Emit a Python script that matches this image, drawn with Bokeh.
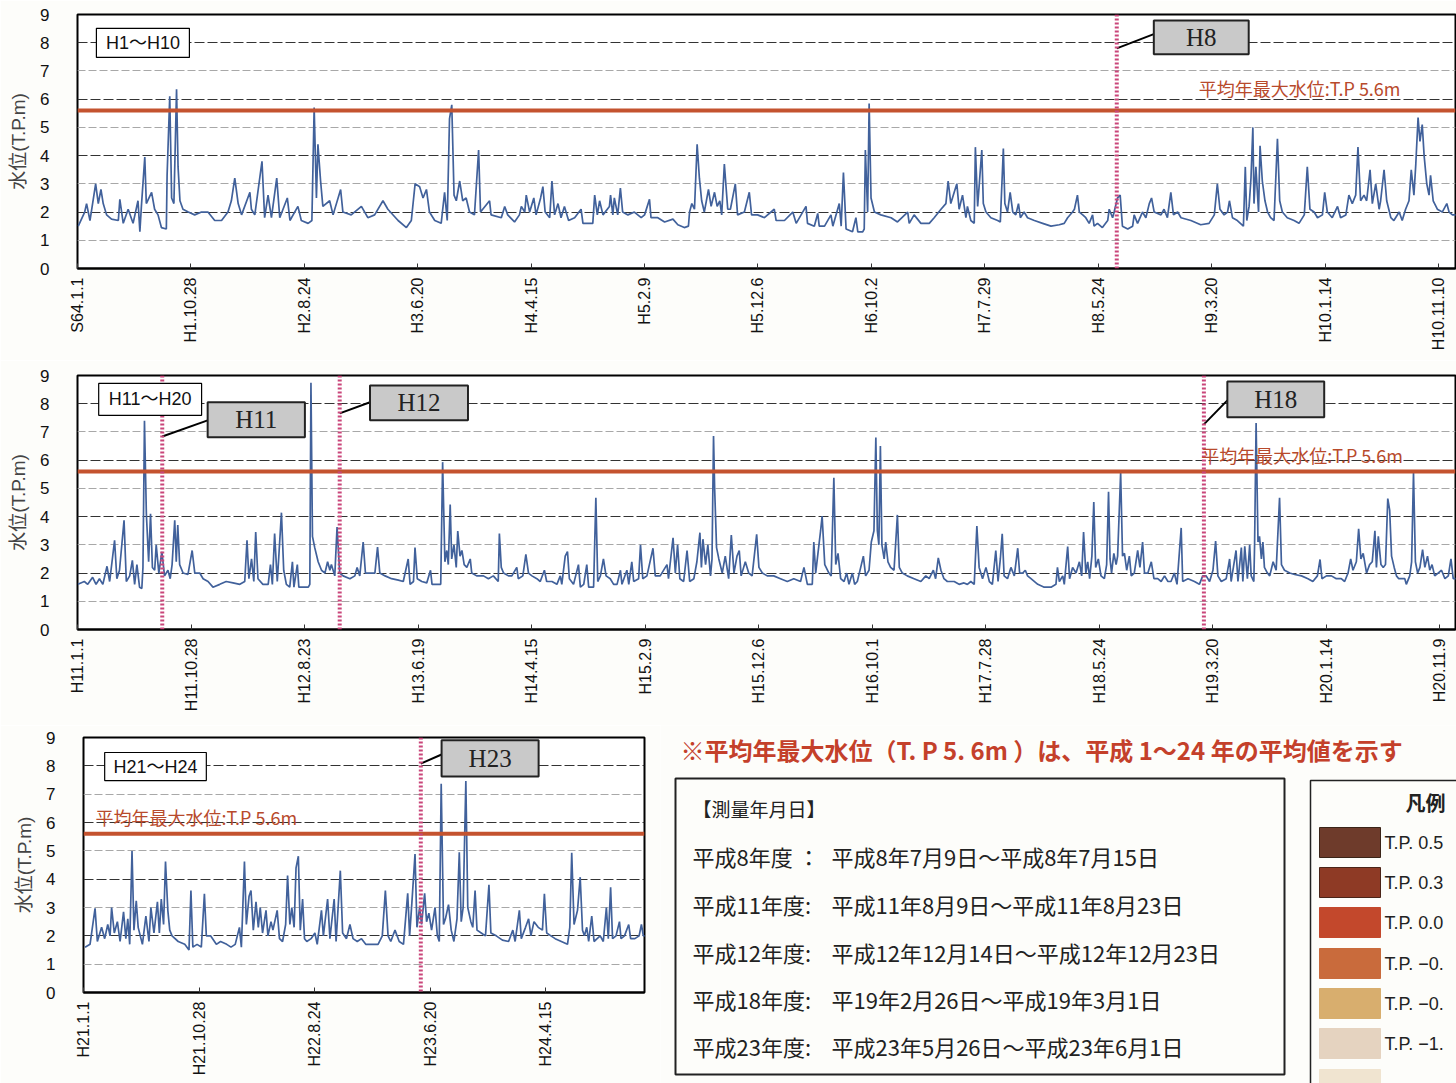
import math
from bokeh.plotting import figure
from bokeh.models import Range1d, FixedTicker, Span, Label, BoxAnnotation, Grid
from bokeh.layouts import column, row
from bokeh.embed import file_html
from bokeh.resources import INLINE

# ---------------- data (days from the first tick, water level T.P.m) ----------------
p1_day = [2, 19, 24, 33, 48, 55, 62, 68, 77, 90, 108, 112, 121, 134, 147, 160, 165, 169, 178, 182,
          196, 204, 213, 222, 235, 237, 244, 249, 255, 262, 266, 271, 279, 293, 310, 328, 345, 363, 381, 398,
          407, 416, 425, 434, 456, 460, 469, 488, 495, 504, 513, 527, 535, 555, 562, 583, 592, 610, 620, 626,
          632, 636, 643, 649, 667, 676, 696, 702, 724, 751, 768, 786, 808, 821, 848, 870, 883, 893, 905, 914,
          923, 931, 945, 962, 971, 978, 984, 990, 996, 1002, 1011, 1019, 1028, 1037, 1050, 1061, 1066, 1090, 1094, 1121,
          1130, 1138, 1156, 1169, 1174, 1183, 1187, 1196, 1207, 1213, 1225, 1231, 1237, 1249, 1255, 1262, 1271, 1279, 1288, 1299,
          1315, 1332, 1337, 1350, 1363, 1368, 1375, 1381, 1390, 1407, 1410, 1416, 1420, 1429, 1436, 1442, 1456, 1473, 1491, 1500,
          1513, 1517, 1535, 1553, 1575, 1588, 1605, 1616, 1619, 1625, 1632, 1639, 1645, 1651, 1658, 1669, 1676, 1685, 1692, 1699,
          1704, 1711, 1720, 1727, 1740, 1746, 1764, 1777, 1783, 1799, 1817, 1843, 1848, 1870, 1892, 1901, 1927, 1931, 1949, 1958,
          1962, 1976, 1993, 1998, 2015, 2020, 2026, 2033, 2050, 2059, 2064, 2077, 2081, 2084, 2090, 2094, 2099, 2108, 2125, 2152,
          2169, 2196, 2200, 2213, 2231, 2253, 2266, 2284, 2297, 2303, 2310, 2319, 2326, 2332, 2341, 2350, 2354, 2363, 2372, 2375,
          2381, 2392, 2396, 2403, 2416, 2434, 2441, 2449, 2453, 2460, 2467, 2474, 2482, 2489, 2494, 2504, 2513, 2531, 2553, 2575,
          2597, 2610, 2619, 2632, 2637, 2645, 2650, 2659, 2667, 2676, 2685, 2689, 2698, 2711, 2725, 2729, 2738, 2742, 2751, 2758,
          2764, 2778, 2791, 2795, 2804, 2817, 2826, 2835, 2841, 2848, 2866, 2874, 2883, 2892, 2899, 2910, 2919, 2945, 2971, 2993,
          3007, 3015, 3022, 3033, 3042, 3047, 3055, 3068, 3084, 3089, 3093, 3099, 3104, 3109, 3112, 3117, 3124, 3128, 3134, 3141,
          3148, 3156, 3165, 3174, 3180, 3187, 3200, 3218, 3231, 3245, 3253, 3260, 3271, 3280, 3293, 3299, 3306, 3319, 3333, 3341,
          3355, 3363, 3372, 3381, 3387, 3394, 3403, 3410, 3419, 3425, 3434, 3443, 3447, 3456, 3463, 3474, 3482, 3496, 3504, 3513,
          3522, 3528, 3535, 3540, 3546, 3551, 3557, 3562, 3569, 3575, 3579, 3586, 3597, 3610, 3622, 3628, 3637, 3645, 3651]
p1_level = [1.5, 2.0, 2.3, 1.7, 3.0, 2.3, 2.8, 2.3, 1.9, 1.75, 1.7, 2.45, 1.6, 2.1, 1.6, 2.4, 1.3, 2.2, 3.95, 2.3,
            2.7, 2.1, 1.9, 1.45, 1.4, 3.3, 6.1, 2.5, 2.3, 6.35, 3.6, 2.4, 2.1, 2.0, 1.9, 2.0, 2.0, 1.7, 1.7, 2.0,
            2.4, 3.2, 2.3, 1.9, 2.7, 2.1, 1.9, 3.8, 1.8, 2.6, 1.8, 3.2, 1.8, 2.5, 1.7, 2.2, 1.7, 1.6, 1.7, 5.7,
            2.5, 4.4, 3.1, 2.2, 2.4, 1.9, 2.8, 2.0, 1.9, 2.2, 1.8, 1.9, 2.4, 2.1, 1.7, 1.45, 1.7, 3.0, 2.9, 2.5,
            2.8, 2.0, 1.7, 1.6, 2.7, 1.7, 5.3, 5.8, 2.6, 2.4, 3.1, 2.4, 2.5, 2.0, 1.9, 4.2, 2.0, 2.4, 1.9, 1.8,
            2.2, 1.9, 1.65, 1.9, 2.2, 2.0, 2.6, 2.0, 2.5, 1.9, 2.5, 2.9, 2.0, 1.8, 3.1, 1.9, 2.3, 1.8, 2.2, 1.7,
            1.8, 2.1, 1.6, 1.6, 1.6, 2.6, 1.9, 2.4, 1.9, 2.2, 2.6, 1.9, 2.5, 1.9, 2.85, 2.0, 1.9, 2.0, 1.8, 1.9,
            2.45, 1.8, 1.8, 1.65, 1.75, 1.55, 1.45, 1.5, 2.0, 2.3, 2.1, 4.4, 3.2, 2.4, 2.0, 2.8, 2.2, 2.7, 2.2, 2.4,
            1.9, 3.7, 2.1, 2.1, 3.0, 1.9, 2.0, 2.7, 1.9, 1.9, 1.8, 2.1, 1.7, 1.7, 2.0, 1.6, 2.2, 1.6, 1.5, 1.95,
            1.5, 1.5, 1.9, 1.5, 2.3, 1.5, 3.4, 1.4, 1.3, 1.8, 1.3, 1.3, 1.4, 4.2, 2.0, 5.85, 2.5, 2.0, 1.9, 1.8,
            1.65, 2.0, 1.6, 1.9, 1.6, 1.6, 1.8, 2.1, 2.3, 3.1, 2.3, 2.7, 3.0, 2.1, 2.6, 1.8, 2.2, 1.7, 1.6, 4.3,
            2.2, 4.2, 2.3, 2.0, 1.8, 1.7, 1.65, 4.25, 2.3, 2.0, 2.7, 2.0, 1.9, 2.3, 1.8, 2.0, 1.8, 1.7, 1.6, 1.5,
            1.55, 1.6, 1.8, 2.0, 2.1, 2.6, 2.0, 1.9, 1.8, 1.6, 1.9, 1.5, 1.6, 1.45, 1.7, 2.1, 1.8, 2.0, 2.5, 2.6,
            1.5, 1.4, 1.5, 1.9, 1.6, 2.0, 1.8, 2.3, 2.5, 2.0, 1.9, 2.1, 1.8, 2.7, 1.9, 2.0, 1.8, 1.7, 1.55, 1.6,
            1.9, 3.0, 2.1, 1.9, 2.0, 2.4, 1.8, 1.7, 1.5, 3.6, 1.7, 2.2, 3.2, 5.0, 2.3, 3.6, 2.0, 4.35, 3.1, 2.4,
            2.0, 1.8, 1.7, 4.6, 2.4, 2.0, 1.8, 1.7, 1.6, 1.9, 3.6, 2.1, 2.0, 1.8, 1.9, 2.7, 2.0, 1.8, 2.2, 1.8,
            1.9, 2.6, 2.3, 2.6, 4.3, 2.4, 2.6, 2.4, 3.5, 2.3, 3.0, 2.1, 2.4, 3.5, 2.4, 1.8, 1.7, 2.0, 1.7, 2.1,
            2.4, 3.5, 2.6, 3.7, 5.35, 4.5, 5.1, 4.0, 3.0, 2.6, 3.3, 2.4, 2.1, 2.0, 2.3, 2.0, 1.9, 1.9, 1.9]

p2_day = [1, 18, 27, 40, 49, 58, 67, 78, 85, 98, 104, 111, 123, 129, 138, 145, 151, 157, 164, 170,
          173, 177, 182, 188, 193, 198, 204, 208, 215, 223, 230, 239, 245, 250, 257, 261, 265, 270, 279, 292,
          303, 310, 323, 332, 345, 358, 376, 393, 411, 429, 442, 448, 453, 460, 466, 471, 477, 490, 504, 510,
          515, 521, 528, 533, 539, 545, 552, 561, 568, 572, 581, 585, 596, 610, 614, 617, 621, 627, 636, 645,
          654, 661, 667, 671, 680, 686, 693, 702, 720, 733, 739, 746, 755, 761, 773, 786, 793, 799, 813, 830,
          848, 861, 874, 879, 888, 892, 898, 910, 923, 933, 937, 949, 960, 965, 971, 976, 980, 985, 989, 995,
          1001, 1005, 1011, 1016, 1022, 1029, 1038, 1042, 1055, 1073, 1086, 1099, 1112, 1115, 1120, 1126, 1139, 1148, 1161, 1165,
          1177, 1185, 1192, 1201, 1214, 1223, 1234, 1240, 1254, 1267, 1276, 1280, 1289, 1295, 1300, 1311, 1324, 1329, 1338, 1346,
          1351, 1364, 1370, 1375, 1382, 1390, 1397, 1408, 1417, 1426, 1435, 1439, 1452, 1457, 1465, 1470, 1483, 1488, 1494, 1505,
          1521, 1527, 1540, 1558, 1562, 1574, 1580, 1586, 1592, 1602, 1611, 1618, 1629, 1637, 1645, 1649, 1653, 1660, 1666, 1673,
          1677, 1681, 1684, 1689, 1695, 1704, 1712, 1721, 1728, 1735, 1743, 1749, 1754, 1765, 1774, 1783, 1795, 1801, 1810, 1823,
          1840, 1858, 1876, 1893, 1911, 1920, 1929, 1942, 1946, 1951, 1957, 1964, 1968, 1975, 1986, 1992, 1999, 2004, 2010, 2017,
          2026, 2033, 2039, 2048, 2054, 2061, 2070, 2077, 2083, 2092, 2098, 2105, 2110, 2114, 2118, 2122, 2126, 2132, 2136, 2142,
          2149, 2158, 2167, 2172, 2180, 2193, 2211, 2229, 2242, 2251, 2262, 2268, 2275, 2282, 2290, 2299, 2317, 2330, 2343, 2352,
          2361, 2370, 2377, 2383, 2392, 2401, 2410, 2418, 2427, 2433, 2439, 2444, 2449, 2458, 2467, 2476, 2485, 2490, 2498, 2505,
          2511, 2520, 2538, 2555, 2573, 2586, 2590, 2595, 2604, 2608, 2617, 2622, 2630, 2639, 2648, 2654, 2659, 2665, 2670, 2675,
          2681, 2686, 2691, 2698, 2705, 2714, 2720, 2725, 2729, 2733, 2739, 2745, 2749, 2757, 2762, 2767, 2773, 2780, 2785, 2793,
          2802, 2808, 2815, 2820, 2829, 2838, 2845, 2855, 2864, 2873, 2882, 2890, 2899, 2906, 2917, 2921, 2935, 2952, 2965, 2974,
          2983, 2992, 3001, 3008, 3014, 3023, 3036, 3045, 3049, 3062, 3067, 3076, 3080, 3085, 3092, 3098, 3102, 3109, 3111, 3115,
          3120, 3124, 3129, 3133, 3137, 3145, 3151, 3160, 3168, 3177, 3182, 3190, 3204, 3217, 3235, 3252, 3265, 3277, 3284, 3289,
          3301, 3314, 3327, 3340, 3349, 3358, 3365, 3371, 3380, 3386, 3392, 3398, 3407, 3415, 3422, 3429, 3433, 3438, 3445, 3451,
          3457, 3463, 3468, 3473, 3480, 3486, 3492, 3499, 3508, 3512, 3521, 3526, 3531, 3536, 3542, 3548, 3555, 3561, 3568, 3574,
          3580, 3587, 3596, 3605, 3614, 3623, 3630, 3636, 3645, 3652]
p2_level = [1.6, 1.7, 1.6, 1.85, 1.6, 1.8, 1.6, 2.24, 1.7, 3.16, 1.8, 2.1, 3.87, 1.7, 1.9, 2.45, 1.6, 2.3, 1.5, 1.45,
            2.2, 7.4, 4.1, 2.4, 4.1, 2.2, 2.1, 3.0, 2.0, 2.75, 1.9, 2.1, 1.8, 2.3, 3.87, 2.4, 3.7, 2.3, 2.0, 1.95,
            2.8, 2.0, 2.0, 1.8, 1.7, 1.5, 1.6, 1.7, 1.65, 1.6, 1.7, 3.16, 1.8, 2.5, 1.7, 3.45, 1.8, 1.6, 1.6, 2.3,
            1.6, 3.4, 1.7, 2.8, 4.14, 2.1, 1.6, 1.5, 2.4, 1.5, 2.3, 1.5, 1.5, 1.5, 1.6, 8.74, 3.3, 2.9, 2.4, 2.1,
            2.0, 2.4, 2.1, 2.3, 1.9, 3.63, 2.0, 1.9, 1.8, 1.9, 2.2, 1.9, 3.1, 2.0, 2.0, 2.0, 2.92, 2.0, 1.9, 1.8,
            1.75, 1.7, 2.5, 1.6, 1.7, 2.9, 1.8, 1.7, 1.65, 2.1, 1.6, 1.6, 1.6, 5.93, 2.4, 2.8, 2.3, 4.43, 2.5, 3.0,
            2.2, 3.49, 2.6, 2.8, 2.3, 2.2, 2.5, 2.0, 1.9, 1.9, 1.8, 1.9, 1.7, 3.4, 2.2, 2.0, 1.9, 1.9, 2.2, 1.8,
            1.9, 2.66, 2.0, 1.9, 1.8, 1.7, 2.1, 1.7, 1.7, 1.6, 1.9, 1.6, 2.6, 2.76, 1.8, 1.6, 2.3, 1.5, 1.6, 2.3,
            1.5, 1.5, 4.67, 1.7, 1.9, 2.5, 1.9, 1.8, 1.6, 1.6, 2.1, 1.6, 2.1, 1.6, 2.4, 1.7, 1.8, 3.0, 1.8, 1.9,
            2.88, 1.9, 1.9, 2.3, 1.8, 3.25, 2.0, 3.0, 1.8, 1.7, 2.8, 1.7, 1.8, 2.4, 3.43, 2.2, 3.2, 2.3, 3.0, 1.9,
            2.5, 6.86, 4.97, 2.9, 2.5, 2.0, 2.6, 1.8, 3.35, 2.0, 2.6, 2.8, 1.9, 2.4, 2.0, 1.9, 3.37, 2.2, 2.0, 1.9,
            1.9, 1.8, 1.7, 1.8, 1.7, 2.2, 1.6, 1.6, 3.1, 2.0, 2.7, 3.5, 4.02, 2.3, 2.0, 1.9, 5.38, 2.3, 2.7, 1.8,
            1.7, 2.0, 1.6, 2.0, 1.6, 1.7, 2.2, 2.6, 1.9, 2.1, 3.1, 3.5, 6.8, 3.5, 3.0, 6.5, 3.0, 2.5, 3.1, 2.4,
            2.2, 2.1, 4.06, 2.2, 2.0, 1.9, 1.8, 1.7, 1.9, 1.8, 2.1, 1.8, 2.54, 2.1, 1.8, 1.7, 1.7, 1.6, 1.65, 1.6,
            1.7, 1.6, 3.67, 2.2, 1.8, 2.2, 1.7, 1.6, 2.8, 1.7, 2.5, 3.39, 1.9, 1.8, 2.2, 1.9, 2.88, 2.0, 2.0, 2.1,
            1.9, 1.8, 1.6, 1.5, 1.5, 1.6, 2.2, 1.7, 1.9, 1.6, 2.94, 1.8, 2.2, 2.0, 2.4, 1.9, 3.45, 2.0, 2.4, 1.8,
            2.6, 4.52, 2.2, 2.5, 1.9, 1.8, 2.3, 4.88, 2.5, 2.0, 2.7, 2.3, 2.6, 5.56, 2.6, 2.7, 2.1, 2.6, 1.9, 2.0,
            2.8, 2.2, 3.1, 2.0, 2.0, 2.4, 1.8, 1.8, 1.7, 1.9, 1.7, 1.7, 2.0, 1.6, 3.6, 1.7, 1.8, 1.7, 1.6, 1.9,
            1.9, 1.7, 2.1, 3.13, 1.9, 1.7, 1.8, 2.5, 1.7, 2.8, 1.7, 2.9, 1.7, 2.95, 1.8, 3.0, 1.9, 1.7, 3.0, 7.32,
            3.1, 3.3, 2.5, 3.1, 2.2, 2.0, 1.9, 2.4, 2.1, 4.67, 2.3, 2.1, 2.0, 1.95, 1.9, 1.8, 1.7, 1.9, 2.48, 1.8,
            1.9, 1.9, 1.8, 1.8, 1.7, 2.0, 2.5, 2.1, 2.4, 3.57, 2.5, 2.7, 2.0, 2.3, 2.4, 3.5, 2.2, 3.3, 2.3, 2.2,
            2.3, 4.64, 4.23, 2.6, 2.2, 1.9, 1.8, 1.8, 1.8, 1.6, 1.9, 2.4, 5.56, 2.4, 2.0, 2.2, 2.83, 2.2, 2.6, 2.1,
            2.3, 1.9, 2.0, 2.1, 1.8, 1.9, 2.5, 1.8, 1.8, 1.8]

p3_day = [4, 17, 30, 36, 47, 55, 63, 69, 73, 80, 88, 95, 104, 110, 115, 120, 126, 131, 137, 142,
          153, 162, 170, 175, 183, 192, 197, 202, 208, 213, 219, 224, 230, 246, 263, 274, 279, 284, 295, 306,
          314, 319, 330, 345, 356, 372, 383, 394, 405, 410, 418, 423, 430, 435, 441, 448, 454, 459, 465, 474,
          479, 487, 492, 503, 509, 517, 525, 530, 536, 541, 547, 552, 558, 563, 569, 574, 580, 591, 601, 607,
          618, 623, 634, 640, 651, 656, 667, 673, 683, 692, 700, 711, 722, 733, 749, 765, 776, 784, 791, 798,
          809, 820, 831, 842, 847, 853, 861, 866, 873, 878, 886, 891, 897, 904, 913, 919, 924, 929, 935, 940,
          948, 955, 962, 970, 976, 981, 986, 993, 998, 1006, 1011, 1017, 1022, 1033, 1044, 1053, 1058, 1072, 1088, 1104,
          1115, 1121, 1132, 1137, 1148, 1156, 1162, 1170, 1181, 1192, 1197, 1203, 1214, 1225, 1241, 1257, 1263, 1268, 1274, 1283,
          1290, 1296, 1301, 1307, 1312, 1320, 1326, 1334, 1342, 1350, 1358, 1363, 1369, 1374, 1383, 1392, 1396, 1405, 1416, 1421,
          1432, 1443, 1449, 1454, 1461]
p3_level = [1.6, 1.7, 2.97, 1.8, 2.3, 1.9, 2.4, 2.0, 3.0, 2.1, 2.5, 1.8, 2.85, 1.9, 2.6, 1.7, 4.99, 2.2, 3.24, 2.3,
            1.7, 2.7, 1.8, 3.0, 2.1, 3.2, 2.1, 3.3, 2.4, 4.62, 2.9, 2.2, 2.0, 1.8, 1.7, 1.5, 3.6, 1.6, 1.7, 1.6,
            3.48, 2.0, 2.0, 1.7, 1.8, 1.7, 1.6, 1.7, 2.3, 1.6, 4.62, 2.4, 3.4, 3.6, 2.2, 3.2, 2.3, 3.0, 2.1, 2.9,
            2.0, 2.5, 2.2, 2.9, 1.9, 1.8, 2.4, 4.13, 2.4, 3.0, 2.3, 4.4, 4.81, 2.2, 3.3, 1.9, 1.8, 1.9, 2.1, 1.7,
            2.9, 2.0, 3.3, 1.9, 3.3, 1.8, 4.3, 2.1, 1.9, 2.4, 1.9, 1.8, 1.9, 1.7, 1.7, 1.7, 2.0, 3.6, 2.0, 1.8,
            2.2, 1.8, 1.7, 3.5, 2.0, 3.2, 4.89, 2.3, 3.0, 2.4, 3.5, 2.5, 2.8, 2.2, 3.0, 2.0, 1.8, 7.37, 2.4, 2.6,
            3.1, 2.2, 1.8, 2.6, 4.95, 2.5, 3.0, 7.46, 3.0, 2.5, 2.3, 3.6, 2.2, 2.1, 2.0, 3.8, 2.1, 2.0, 1.85, 1.8,
            2.2, 1.8, 2.9, 1.9, 2.3, 2.6, 2.0, 2.5, 2.3, 2.2, 3.48, 2.1, 2.0, 1.9, 1.8, 1.7, 2.3, 4.93, 2.4, 2.9,
            4.07, 2.2, 2.0, 2.3, 1.8, 2.7, 1.8, 1.9, 2.0, 1.8, 3.0, 1.9, 3.71, 1.9, 2.0, 2.5, 1.9, 2.0, 2.4, 1.9,
            1.9, 2.0, 2.4, 2.0, 2.0]

tick_days = [0, 300, 600, 900, 1200, 1500, 1800, 2100, 2400, 2700, 3000, 3300, 3600]
p1_tick_labels = ["S64.1.1", "H1.10.28", "H2.8.24", "H3.6.20", "H4.4.15", "H5.2.9", "H5.12.6",
                  "H6.10.2", "H7.7.29", "H8.5.24", "H9.3.20", "H10.1.14", "H10.11.10"]
p2_tick_labels = ["H11.1.1", "H11.10.28", "H12.8.23", "H13.6.19", "H14.4.15", "H15.2.9", "H15.12.6",
                  "H16.10.1", "H17.7.28", "H18.5.24", "H19.3.20", "H20.1.14", "H20.11.9"]
p3_tick_days = [0, 300, 600, 900, 1200]
p3_tick_labels = ["H21.1.1", "H21.10.28", "H22.8.24", "H23.6.20", "H24.4.15"]

mean_level = 5.6
mean_text = "平均年最大水位:T.P 5.6m"
p1_survey = {"H8": 2749}
p2_survey = {"H11": 224, "H12": 693, "H18": 2977}
p3_survey = {"H23": 876}

note_text = "※平均年最大水位（T. P 5. 6m ）は、平成 1～24 年の平均値を示す"
survey_title = "【測量年月日】"
survey_years = ["平成8年度 ：", "平成11年度:", "平成12年度:", "平成18年度:", "平成23年度:"]
survey_dates = ["平成8年7月9日～平成8年7月15日", "平成11年8月9日～平成11年8月23日",
                "平成12年12月14日～平成12年12月23日", "平19年2月26日～平成19年3月1日",
                "平成23年5月26日～平成23年6月1日"]
legend_title = "凡例"
legend_labels = ["T.P. 0.5", "T.P. 0.3", "T.P. 0.0", "T.P. −0.", "T.P. −0.", "T.P. −1.", ""]
legend_colors = ["#6e3b2b", "#8e3a25", "#c3482c", "#c96b3c", "#d8ae6e", "#e5d3c0", "#f0e4d0"]

# ---------------- styling ----------------
LINE_BLUE = "#41619b"
MEAN_RED = "#c4532f"
SURVEY_PINK = "#c9467a"
BG = "#fdfdfa"
SANS = "Liberation Sans, Noto Sans CJK JP"
CJK = "Noto Sans CJK JP"
SERIF = "Liberation Serif"


def make_panel(width, height, borders, x_end, days, levels, ticks, labels):
    bl, br, bt, bb = borders
    p = figure(width=width, height=height, x_range=Range1d(0, x_end), y_range=Range1d(0, 9),
               output_backend="svg", toolbar_location=None,
               min_border_left=bl, min_border_right=br, min_border_top=bt, min_border_bottom=bb)
    p.background_fill_color = "white"
    p.border_fill_color = BG
    p.outline_line_color = "black"
    p.outline_line_width = 2
    p.xgrid.visible = False
    p.ygrid.ticker = FixedTicker(ticks=[2, 4, 6, 8])
    p.ygrid.grid_line_color = "#333333"
    p.ygrid.grid_line_dash = "10 3"
    p.ygrid.grid_line_width = 1
    p.add_layout(Grid(dimension=1, ticker=FixedTicker(ticks=[1, 3, 5, 7]),
                      grid_line_color="#a8a8a8", grid_line_dash="8 3", grid_line_width=1), "center")

    p.yaxis.ticker = FixedTicker(ticks=list(range(10)))
    p.yaxis.major_tick_line_color = None
    p.yaxis.minor_tick_line_color = None
    p.yaxis.axis_line_color = None
    p.yaxis.major_label_standoff = 22
    p.yaxis.major_label_text_font = SANS
    p.yaxis.major_label_text_font_size = "17px"
    p.yaxis.major_label_text_color = "#111111"
    p.yaxis.axis_label = "水位(T.P.m)"
    p.yaxis.axis_label_text_font = SANS
    p.yaxis.axis_label_text_font_style = "normal"
    p.yaxis.axis_label_text_font_size = "19px"
    p.yaxis.axis_label_standoff = 8

    p.xaxis.ticker = FixedTicker(ticks=ticks)
    p.xaxis.major_label_overrides = {t: s for t, s in zip(ticks, labels)}
    p.xaxis.major_label_orientation = math.pi / 2
    p.xaxis.major_tick_in = 5
    p.xaxis.major_tick_out = 0
    p.xaxis.major_tick_line_color = "#333333"
    p.xaxis.minor_tick_line_color = None
    p.xaxis.axis_line_width = 2
    p.xaxis.major_label_standoff = 9
    p.xaxis.major_label_text_font = SANS
    p.xaxis.major_label_text_font_size = "16px"
    p.xaxis.major_label_text_color = "#111111"

    p.line(days, levels, line_color=LINE_BLUE, line_width=1.7)
    p.add_layout(Span(location=mean_level, dimension="width", line_color=MEAN_RED, line_width=4))
    return p


def range_box(p, left, right, bottom, top, text):
    p.add_layout(BoxAnnotation(left=left, right=right, bottom=bottom, top=top,
                               fill_color="white", fill_alpha=1, line_color="black", line_width=1.2,
                               line_alpha=1))
    p.add_layout(Label(x=(left + right) / 2, y=(bottom + top) / 2, text=text, text_align="center",
                       text_baseline="middle", text_font=SANS, text_font_size="18px", text_color="#111111"))


def callout(p, left, right, bottom, top, text, x0, y0, x1, y1):
    p.segment(x0=[x0], y0=[y0], x1=[x1], y1=[y1], line_color="black", line_width=2)
    p.add_layout(BoxAnnotation(left=left, right=right, bottom=bottom, top=top,
                               fill_color="#c9c9c9", fill_alpha=1, line_color="#222222", line_width=2,
                               line_alpha=1))
    p.add_layout(Label(x=(left + right) / 2, y=(bottom + top) / 2, text=text, text_align="center",
                       text_baseline="middle", text_font=SERIF, text_font_size="25px", text_color="#222222"))


def mean_label(p, x, y):
    p.add_layout(Label(x=x, y=y, text=mean_text, text_baseline="middle", text_font=CJK,
                       text_font_size="18px", text_color="#b84a2c"))


def survey_lines(p, survey):
    for name, d in survey.items():
        p.add_layout(Span(location=d, dimension="height", line_color=SURVEY_PINK,
                          line_width=4, line_dash="2 2"))


# panel 1: H1～H10   (page has no margin: Bokeh template sets body margin 0)
p1 = make_panel(1456, 360, (77, 1, 14, 92), 3645, p1_day, p1_level, tick_days, p1_tick_labels)
survey_lines(p1, p1_survey)
range_box(p1, 50, 296, 7.48, 8.51, "H1～H10")
callout(p1, 2847, 3098, 7.59, 8.79, "H8", 2852, 8.33, p1_survey["H8"], 7.8)
mean_label(p1, 2966, 6.38)

# panel 2: H11～H20
p2 = make_panel(1456, 365, (77, 1, 15, 96), 3642, p2_day, p2_level, tick_days, p2_tick_labels)
survey_lines(p2, p2_survey)
range_box(p2, 56, 328, 7.59, 8.72, "H11～H20")
callout(p2, 344, 601, 6.81, 8.05, "H11", 344, 7.41, p2_survey["H11"], 6.84)
callout(p2, 773, 1032, 7.41, 8.65, "H12", 773, 8.05, p2_survey["H12"], 7.66)
callout(p2, 3039, 3295, 7.52, 8.79, "H18", 3039, 8.12, p2_survey["H18"], 7.27)
mean_label(p2, 2970, 6.18)

# panel 3: H21～H24
P3_H = 358
p3 = make_panel(660, P3_H, (83, 16, 12, 91), 1457, p3_day, p3_level, p3_tick_days, p3_tick_labels)
survey_lines(p3, p3_survey)
range_box(p3, 55, 319, 7.48, 8.47, "H21～H24")
callout(p3, 930, 1182, 7.62, 8.9, "H23", 930, 8.4, p3_survey["H23"], 8.08)
mean_label(p3, 31, 6.18)

# side panel: note, survey dates box, legend  (1 unit = 1 px, y counted from the top of this panel)
q = figure(width=796, height=P3_H, x_range=Range1d(0, 796), y_range=Range1d(P3_H, 0),
           output_backend="svg", toolbar_location=None, x_axis_type=None, y_axis_type=None,
           min_border_left=0, min_border_right=0, min_border_top=0, min_border_bottom=0)
q.grid.visible = False
q.outline_line_color = None
q.background_fill_color = BG
q.border_fill_color = BG

q.add_layout(Label(x=20, y=24, text=note_text, text_baseline="middle", text_font=CJK,
                   text_font_style="bold", text_font_size="24px", text_color="#c4402a"))
q.add_layout(BoxAnnotation(left=15, right=624, top=53, bottom=349, fill_alpha=0,
                           line_color="#222222", line_width=2, line_alpha=1))
q.add_layout(Label(x=32, y=83, text=survey_title, text_baseline="middle", text_font=CJK,
                   text_font_size="19px", text_color="#222222"))
row_y = [130, 178, 226, 273, 320]
for yy, lab, dt in zip(row_y, survey_years, survey_dates):
    q.add_layout(Label(x=32, y=yy, text=lab, text_baseline="middle", text_font=CJK,
                       text_font_size="22px", text_color="#222222"))
    q.add_layout(Label(x=171, y=yy, text=dt, text_baseline="middle", text_font=CJK,
                       text_font_size="22px", text_color="#222222"))

q.add_layout(BoxAnnotation(left=650, right=810, top=55, bottom=370, fill_alpha=0,
                           line_color="#222222", line_width=1.5, line_alpha=1))
q.add_layout(Label(x=765, y=77, text=legend_title, text_align="center", text_baseline="middle",
                   text_font=CJK, text_font_style="bold", text_font_size="20px", text_color="#222222"))
sw_top = [102, 142, 182, 223, 263, 303, 344]
sw_edge = ["#3a2418", "#4a2418", "#c3482c", "#c96b3c", "#d8ae6e", "#e5d3c0", "#f0e4d0"]
for t, c, e, lab in zip(sw_top, legend_colors, sw_edge, legend_labels):
    q.add_layout(BoxAnnotation(left=659, right=720, top=t, bottom=t + 30, fill_color=c, fill_alpha=1,
                               line_color=e, line_width=1, line_alpha=1))
    if lab:
        q.add_layout(Label(x=724, y=t + 15, text=lab, text_baseline="middle", text_font=SANS,
                           text_font_size="18px", text_color="#222222"))

# q is nested in its own column so that its frame is not aligned with the frame of p3
layout = column(p1, p2, row(p3, column(q, spacing=0), spacing=0), spacing=0)
open("out.html", "w").write(file_html(layout, INLINE))
